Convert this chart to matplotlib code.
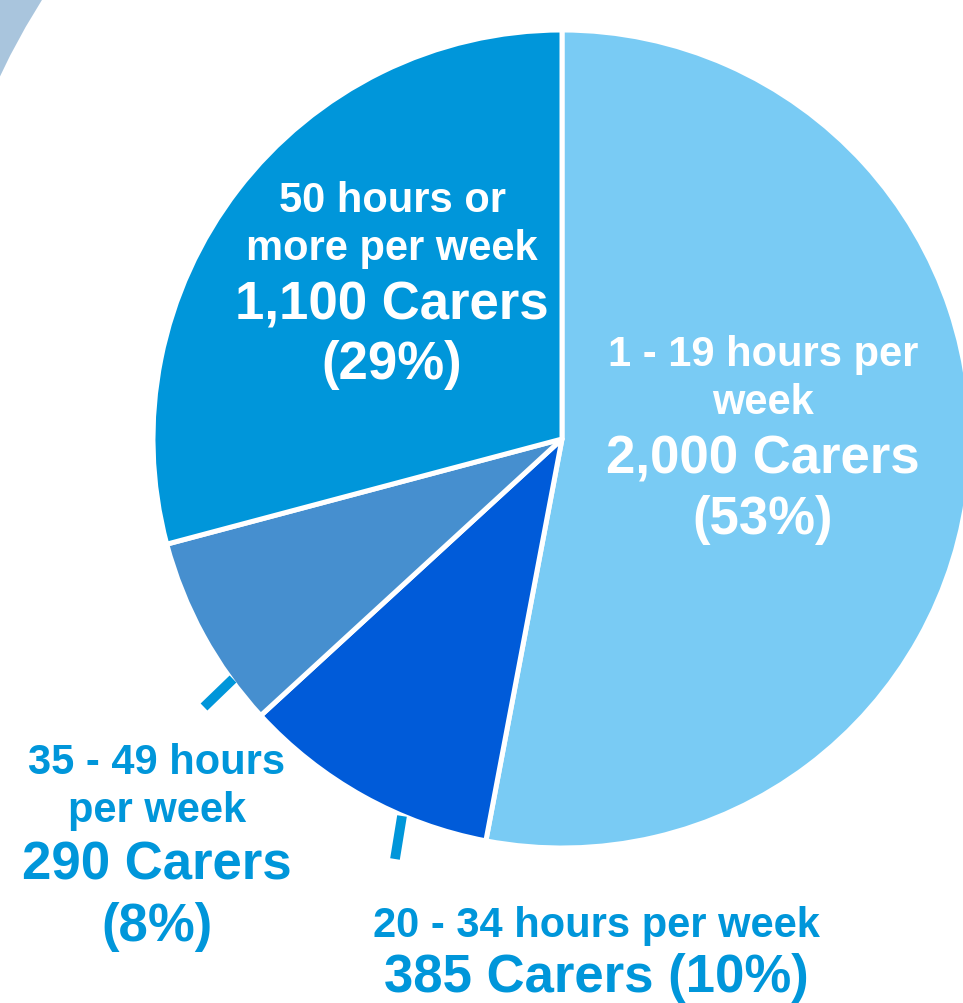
import matplotlib.pyplot as plt
from matplotlib.patches import Wedge

plt.rcParams['font.family'] = ['Liberation Sans', 'DejaVu Sans']

# Data
categories = ["1 - 19 hours per week", "20 - 34 hours per week",
              "35 - 49 hours per week", "50 hours or more per week"]
carers = [2000, 385, 290, 1100]
colors = ["#79CBF4", "#005BD9", "#468FCF", "#0096DA"]
label_blue = "#0096DA"

total = sum(carers)
pcts = [round(100 * v / total) for v in carers]

W, H = 963, 1004
fig = plt.figure(figsize=(W / 100, H / 100), dpi=100)
ax = fig.add_axes([0, 0, 1, 1])

# pale ring piece in the top-left corner
ax.add_patch(Wedge((640, H - 380), 1300, 120, 162, width=592,
                   color="#A9C5DD", lw=0))

cx, cy, r = 562, H - 440, 409
ax.pie(carers, colors=colors, startangle=90, counterclock=False,
       center=(cx, cy), radius=r,
       wedgeprops=dict(edgecolor="white", linewidth=3.6, joinstyle="round"))

ax.set_xlim(0, W)
ax.set_ylim(0, H)
ax.set_aspect("equal")
ax.axis("off")

small, big = 30, 38


def lines(x, ys, texts, sizes, color):
    for y, t, s in zip(ys, texts, sizes):
        ax.text(x, H - y, t, ha="center", va="center", fontsize=s,
                fontweight="bold", color=color)


# 50 hours or more
lines(392, [201, 249, 306, 365],
      ["50 hours or", "more per week",
       f"{carers[3]:,} Carers", f"({pcts[3]}%)"],
      [small, small, big, big], "white")

# 1 - 19 hours
lines(763, [355, 403, 459, 520],
      ["1 - 19 hours per", "week",
       f"{carers[0]:,} Carers", f"({pcts[0]}%)"],
      [small, small, big, big], "white")

# 35 - 49 hours
lines(157, [763, 811, 866, 927],
      ["35 - 49 hours", "per week",
       f"{carers[2]:,} Carers", f"({pcts[2]}%)"],
      [small, small, big, big], label_blue)

# 20 - 34 hours
lines(596, [926, 978],
      [categories[1], f"{carers[1]:,} Carers ({pcts[1]}%)"],
      [small, big], label_blue)

# leader ticks
ax.plot([204, 233], [H - 708, H - 680], color=label_blue, lw=7,
        solid_capstyle="butt")
ax.plot([395, 402], [H - 860, H - 817], color=label_blue, lw=7,
        solid_capstyle="butt")

fig.savefig("out.png", dpi=100)
